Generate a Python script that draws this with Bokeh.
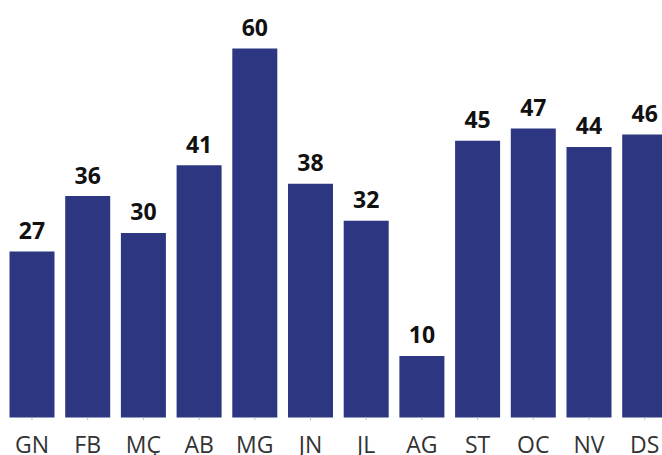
from bokeh.plotting import figure
from bokeh.models import ColumnDataSource, Range1d
from bokeh.core.properties import value
from bokeh.embed import file_html
from bokeh.resources import INLINE

months = ["GN", "FB", "MÇ", "AB", "MG", "JN", "JL", "AG", "ST", "OC", "NV", "DS"]
values = [27, 36, 30, 41, 60, 38, 32, 10, 45, 47, 44, 46]
positions = list(range(len(months)))
labels = [str(v) for v in values]

BAR_COLOR = "#2d3680"

src = ColumnDataSource(dict(x=positions, top=values, label=labels,
                            month=months, zero=[0] * len(months),
                            tick_end=[-0.42] * len(months)))

p = figure(width=662, height=455, output_backend="svg", toolbar_location=None,
           x_range=Range1d(-0.5655, 11.3196), y_range=Range1d(-6.18, 67.8),
           min_border_left=0, min_border_right=0, min_border_top=0,
           min_border_bottom=0)

p.vbar(x="x", top="top", bottom=0, width=0.808, source=src,
       fill_color=BAR_COLOR, line_color=None)

# small tick marks below each bar
p.segment(x0="x", y0="zero", x1="x", y1="tick_end", source=src,
          line_color="#bbbbbb", line_width=1)

# value labels
p.text(x="x", y="top", text="label", source=src, text_align="center",
       text_baseline="alphabetic", y_offset=-21,
       text_font=value("Open Sans"), text_font_style="bold",
       text_font_size="23px", text_color="#111111")

# month labels
p.text(x="x", y="zero", text="month", source=src, text_align="center",
       text_baseline="alphabetic", y_offset=27,
       text_font=value("Open Sans"), text_font_size="23px",
       text_color="#333333")

p.xaxis.visible = False
p.yaxis.visible = False
p.xgrid.grid_line_color = None
p.ygrid.grid_line_color = None
p.outline_line_color = None

open("out.html", "w").write(file_html(p, INLINE))
